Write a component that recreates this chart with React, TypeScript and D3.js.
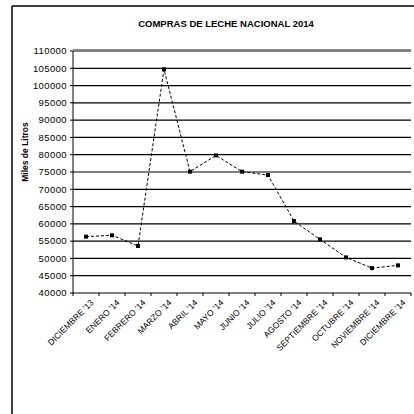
import React from "react";
import * as d3 from "d3";

const categories = [
  "DICIEMBRE '13", "ENERO '14", "FEBRERO '14", "MARZO '14", "ABRIL '14", "MAYO '14",
  "JUNIO '14", "JULIO '14", "AGOSTO '14", "SEPTIEMBRE '14", "OCTUBRE '14", "NOVIEMBRE '14", "DICIEMBRE '14",
];
const values = [56300, 56700, 53600, 104700, 75100, 79800, 75100, 74100, 60800, 55500, 50300, 47200, 48000];
const yTicks = [40000, 45000, 50000, 55000, 60000, 65000, 70000, 75000, 80000, 85000, 90000, 95000, 100000, 105000, 110000];
const title = "COMPRAS DE LECHE NACIONAL 2014";
const yTitle = "Miles de Litros";

export default function App() {
  const W = 414, H = 414;
  const left = 73, right = 411, top = 51, bottom = 293;
  const x = d3.scaleBand<string>().domain(categories).range([left, right]);
  const y = d3.scaleLinear().domain([40000, 110000]).range([bottom, top]);
  const line = d3.line<number>()
    .x((_, i) => (x(categories[i]) as number) + x.bandwidth() / 2)
    .y((d) => y(d));
  const font = "'Liberation Sans', Arial, sans-serif";
  const boundaries = d3.range(categories.length + 1).map((i) => left + i * x.step());
  return (
    <svg width={W} height={H} style={{ position: "absolute", left: 0, top: 0, background: "#fff" }} fontFamily={font}>
      {/* outer frame */}
      <line x1={12} y1={6} x2={414} y2={6} stroke="#000" strokeWidth={1.5} />
      <line x1={12} y1={6} x2={12} y2={414} stroke="#000" strokeWidth={1.5} />
      <text x={226} y={27} textAnchor="middle" fontSize={9.5} fontWeight="bold">{title}</text>
      <text transform={`translate(28,152) rotate(-90)`} textAnchor="middle" fontSize={8.5} fontWeight="bold">{yTitle}</text>
      <line x1={left} x2={right} y1={top - 1.5} y2={top - 1.5} stroke="#888" strokeWidth={1} />
      {/* grid */}
      {yTicks.map((t) => (
        <g key={t}>
          <line x1={left} x2={right} y1={y(t)} y2={y(t)} stroke="#000" strokeWidth={1.2} />
          <line x1={left - 3} x2={left} y1={y(t)} y2={y(t)} stroke="#000" strokeWidth={1} />
          <text x={67} y={y(t)} dy="0.35em" textAnchor="end" fontSize={9.5} letterSpacing={0.4}>{t}</text>
        </g>
      ))}
      <line x1={left} x2={left} y1={top} y2={bottom} stroke="#000" strokeWidth={1} />
      {boundaries.map((b, i) => (
        <line key={i} x1={b} x2={b} y1={bottom} y2={bottom + 3} stroke="#000" strokeWidth={1} />
      ))}
      {categories.map((c) => {
        const cx = (x(c) as number) + x.bandwidth() / 2;
        return (
          <text key={c} transform={`translate(${cx + 4},${bottom + 6}) rotate(-45)`} textAnchor="end" fontSize={8.5} dy="0.7em">{c}</text>
        );
      })}
      <path d={line(values) || ""} fill="none" stroke="#000" strokeWidth={1} strokeDasharray="3,2" />
      {values.map((v, i) => (
        <rect key={i} x={(x(categories[i]) as number) + x.bandwidth() / 2 - 2} y={y(v) - 2} width={4} height={4} fill="#000" />
      ))}
    </svg>
  );
}
